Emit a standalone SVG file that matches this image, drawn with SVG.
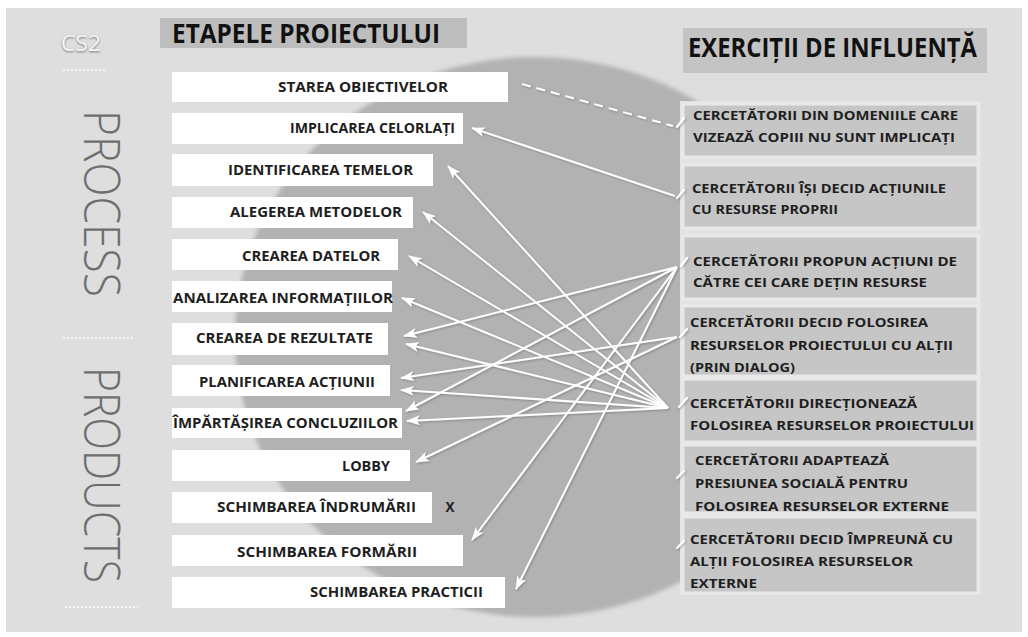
<svg xmlns="http://www.w3.org/2000/svg" width="1028" height="637" viewBox="0 0 1028 637">
  <style>
    .bg { fill: #dedede; }
    .stage { fill: #ffffff; }
    .stxt { font-family: "Open Sans", "Liberation Sans", sans-serif; font-weight: 700; font-size: 13.5px; fill: #1e1e1e; }
    .ex { fill: #c6c6c6; stroke: #e9e9e9; stroke-width: 3; }
    .etxt { font-family: "Open Sans", "Liberation Sans", sans-serif; font-weight: 700; font-size: 13px; fill: #1e1e1e; }
    .title { font-family: "Open Sans", "Liberation Sans", sans-serif; font-weight: 700; font-size: 26px; fill: #111111; }
    .side { font-family: "Open Sans", Lato, sans-serif; font-weight: 300; font-size: 50px; fill: #6e6e6e; }
    .dots { stroke: #f7f7f7; stroke-width: 2; stroke-dasharray: 2 2; fill: none; }
    .conn { stroke: #ffffff; stroke-width: 2; fill: none; }
    .tick { stroke: #ffffff; stroke-width: 2.2; fill: none; stroke-linecap: round; }
  </style>
  <defs>
    <marker id="arrow" viewBox="0 0 14 10" refX="13" refY="5" markerWidth="14" markerHeight="10" markerUnits="userSpaceOnUse" orient="auto">
      <path d="M0,0 L14,5 L0,10 L3.5,5 Z" fill="#ffffff"/>
    </marker>
    <filter id="soft" x="-5%" y="-5%" width="110%" height="110%">
      <feGaussianBlur stdDeviation="2"/>
    </filter>
    <filter id="shadow" x="-10%" y="-10%" width="120%" height="120%">
      <feDropShadow dx="1" dy="1" stdDeviation="0.8" flood-color="#555555" flood-opacity="0.5"/>
    </filter>
    <filter id="txtshadow" x="-20%" y="-20%" width="140%" height="140%">
      <feDropShadow dx="0" dy="1" stdDeviation="1.2" flood-color="#555555" flood-opacity="0.8"/>
    </filter>
  </defs>

  <rect x="0" y="0" width="1028" height="637" fill="#ffffff"/>
  <rect class="bg" x="6" y="8" width="1016" height="624"/>

  <!-- big ellipse backdrop -->
  <ellipse cx="535" cy="337" rx="300" ry="280" fill="#b2b2b2" filter="url(#soft)"/>

  <!-- left side labels -->
  <g id="side-labels">
    <text x="61" y="51" font-family="'Open Sans', 'Liberation Sans', sans-serif" font-size="22" fill="#f4f4f4" filter="url(#txtshadow)" textLength="40" lengthAdjust="spacingAndGlyphs">CS2</text>
    <line class="dots" x1="63" y1="70" x2="106" y2="70"/>
    <text class="side" transform="translate(84,110) rotate(90)" x="0" y="0" textLength="187" lengthAdjust="spacingAndGlyphs">PROCESS</text>
    <line class="dots" x1="63" y1="338" x2="135" y2="338"/>
    <text class="side" transform="translate(84,367) rotate(90)" x="0" y="0" textLength="216" lengthAdjust="spacingAndGlyphs">PRODUCTS</text>
    <line class="dots" x1="65" y1="607" x2="138" y2="607"/>
  </g>

  <!-- headers -->
  <g id="header-stages">
    <rect x="160" y="18" width="307" height="30" fill="#bdbdbd"/>
    <text class="title" x="172" y="43" textLength="268" lengthAdjust="spacingAndGlyphs">ETAPELE PROIECTULUI</text>
  </g>
  <g id="header-exercises">
    <rect x="683" y="28" width="304" height="45" fill="#c4c4c4"/>
    <text class="title" x="688" y="57" textLength="289" lengthAdjust="spacingAndGlyphs">EXERCIȚII DE INFLUENȚĂ</text>
  </g>

  <!-- stage nodes -->
  <g id="stage-1"><rect class="stage" x="172" y="72" width="336" height="30"/><text class="stxt" x="278" y="92" textLength="170" lengthAdjust="spacingAndGlyphs">STAREA OBIECTIVELOR</text></g>
  <g id="stage-2"><rect class="stage" x="172" y="113" width="291" height="31"/><text class="stxt" x="290" y="133" textLength="165" lengthAdjust="spacingAndGlyphs">IMPLICAREA CELORLAȚI</text></g>
  <g id="stage-3"><rect class="stage" x="172" y="154" width="261" height="32"/><text class="stxt" x="228" y="175" textLength="185" lengthAdjust="spacingAndGlyphs">IDENTIFICAREA TEMELOR</text></g>
  <g id="stage-4"><rect class="stage" x="172" y="197" width="241" height="31"/><text class="stxt" x="230" y="217" textLength="172" lengthAdjust="spacingAndGlyphs">ALEGEREA METODELOR</text></g>
  <g id="stage-5"><rect class="stage" x="172" y="239" width="226" height="31"/><text class="stxt" x="242" y="261" textLength="138" lengthAdjust="spacingAndGlyphs">CREAREA DATELOR</text></g>
  <g id="stage-6"><rect class="stage" x="172" y="281" width="220" height="31"/><text class="stxt" x="173" y="303" textLength="220" lengthAdjust="spacingAndGlyphs">ANALIZAREA INFORMAȚIILOR</text></g>
  <g id="stage-7"><rect class="stage" x="172" y="323" width="216" height="32"/><text class="stxt" x="196" y="343" textLength="177" lengthAdjust="spacingAndGlyphs">CREAREA DE REZULTATE</text></g>
  <g id="stage-8"><rect class="stage" x="172" y="365" width="218" height="31"/><text class="stxt" x="199" y="387" textLength="176" lengthAdjust="spacingAndGlyphs">PLANIFICAREA ACȚIUNII</text></g>
  <g id="stage-9"><rect class="stage" x="172" y="408" width="230" height="30"/><text class="stxt" x="173" y="428" textLength="225" lengthAdjust="spacingAndGlyphs">ÎMPĂRTĂȘIREA CONCLUZIILOR</text></g>
  <g id="stage-10"><rect class="stage" x="172" y="450" width="238" height="31"/><text class="stxt" x="342" y="471" textLength="48" lengthAdjust="spacingAndGlyphs">LOBBY</text></g>
  <g id="stage-11"><rect class="stage" x="172" y="492" width="260" height="31"/><text class="stxt" x="217" y="512" textLength="199" lengthAdjust="spacingAndGlyphs">SCHIMBAREA ÎNDRUMĂRII</text><text class="stxt" x="450" y="512" text-anchor="middle" fill="#3a3a3a">X</text></g>
  <g id="stage-12"><rect class="stage" x="172" y="535" width="291" height="31"/><text class="stxt" x="237" y="557" textLength="180" lengthAdjust="spacingAndGlyphs">SCHIMBAREA FORMĂRII</text></g>
  <g id="stage-13"><rect class="stage" x="172" y="577" width="333" height="31"/><text class="stxt" x="310" y="597" textLength="173" lengthAdjust="spacingAndGlyphs">SCHIMBAREA PRACTICII</text></g>

  <!-- exercise nodes -->
  <rect x="680" y="101" width="301" height="494" fill="#e4e4e4"/>
  <g id="ex-1"><rect class="ex" x="683" y="104" width="295" height="53"/>
    <text class="etxt" x="693" y="120" textLength="265" lengthAdjust="spacingAndGlyphs">CERCETĂTORII DIN DOMENIILE CARE</text>
    <text class="etxt" x="693" y="142" textLength="262" lengthAdjust="spacingAndGlyphs">VIZEAZĂ COPIII NU SUNT IMPLICAȚI</text></g>
  <g id="ex-2"><rect class="ex" x="683" y="165" width="295" height="63"/>
    <text class="etxt" x="692" y="193" textLength="254" lengthAdjust="spacingAndGlyphs">CERCETĂTORII ÎȘI DECID ACȚIUNILE</text>
    <text class="etxt" x="692" y="214" textLength="146" lengthAdjust="spacingAndGlyphs">CU RESURSE PROPRII</text></g>
  <g id="ex-3"><rect class="ex" x="683" y="236" width="295" height="63"/>
    <text class="etxt" x="693" y="266" textLength="264" lengthAdjust="spacingAndGlyphs">CERCETĂTORII PROPUN ACȚIUNI  DE</text>
    <text class="etxt" x="693" y="287" textLength="234" lengthAdjust="spacingAndGlyphs">CĂTRE CEI CARE DEȚIN RESURSE</text></g>
  <g id="ex-4"><rect class="ex" x="683" y="306" width="295" height="70"/>
    <text class="etxt" x="690" y="327" textLength="238" lengthAdjust="spacingAndGlyphs">CERCETĂTORII DECID FOLOSIREA</text>
    <text class="etxt" x="690" y="350" textLength="263" lengthAdjust="spacingAndGlyphs">RESURSELOR PROIECTULUI CU ALȚII</text>
    <text class="etxt" x="690" y="372" textLength="105" lengthAdjust="spacingAndGlyphs">(PRIN DIALOG)</text></g>
  <g id="ex-5"><rect class="ex" x="683" y="379" width="295" height="63"/>
    <text class="etxt" x="690" y="408" textLength="227" lengthAdjust="spacingAndGlyphs">CERCETĂTORII DIRECȚIONEAZĂ</text>
    <text class="etxt" x="690" y="430" textLength="284" lengthAdjust="spacingAndGlyphs">FOLOSIREA RESURSELOR PROIECTULUI</text></g>
  <g id="ex-6"><rect class="ex" x="683" y="445" width="295" height="68"/>
    <text class="etxt" x="695" y="465" textLength="194" lengthAdjust="spacingAndGlyphs">CERCETĂTORII ADAPTEAZĂ</text>
    <text class="etxt" x="695" y="488" textLength="213" lengthAdjust="spacingAndGlyphs">PRESIUNEA SOCIALĂ PENTRU</text>
    <text class="etxt" x="695" y="511" textLength="254" lengthAdjust="spacingAndGlyphs">FOLOSIREA RESURSELOR EXTERNE</text></g>
  <g id="ex-7"><rect class="ex" x="683" y="517" width="295" height="76"/>
    <text class="etxt" x="690" y="544" textLength="263" lengthAdjust="spacingAndGlyphs">CERCETĂTORII DECID ÎMPREUNĂ CU</text>
    <text class="etxt" x="690" y="566" textLength="223" lengthAdjust="spacingAndGlyphs">ALȚII FOLOSIREA RESURSELOR</text>
    <text class="etxt" x="690" y="588" textLength="67" lengthAdjust="spacingAndGlyphs">EXTERNE</text></g>

  <!-- connectors -->
  <g id="connectors" filter="url(#shadow)">
    <line class="conn" x1="522" y1="84" x2="673" y2="126" stroke-width="2.5" stroke-dasharray="9 6"/>
    <line class="conn" x1="675" y1="196" x2="472" y2="128" marker-end="url(#arrow)"/>
    <line class="conn" x1="677" y1="267" x2="404" y2="336" marker-end="url(#arrow)"/>
    <line class="conn" x1="677" y1="267" x2="406" y2="411" marker-end="url(#arrow)"/>
    <line class="conn" x1="677" y1="267" x2="472" y2="540" marker-end="url(#arrow)"/>
    <line class="conn" x1="677" y1="267" x2="516" y2="589" marker-end="url(#arrow)"/>
    <line class="conn" x1="677" y1="337" x2="401" y2="378" marker-end="url(#arrow)"/>
    <line class="conn" x1="677" y1="337" x2="416" y2="462" marker-end="url(#arrow)"/>
    <line class="conn" x1="668" y1="408" x2="448" y2="166" marker-end="url(#arrow)"/>
    <line class="conn" x1="668" y1="408" x2="423" y2="212" marker-end="url(#arrow)"/>
    <line class="conn" x1="668" y1="408" x2="409" y2="256" marker-end="url(#arrow)"/>
    <line class="conn" x1="668" y1="408" x2="402" y2="298" marker-end="url(#arrow)"/>
    <line class="conn" x1="668" y1="408" x2="406" y2="344" marker-end="url(#arrow)"/>
    <line class="conn" x1="668" y1="408" x2="401" y2="390" marker-end="url(#arrow)"/>
    <line class="conn" x1="668" y1="408" x2="407" y2="421" marker-end="url(#arrow)"/>
    <path class="tick" d="M677,127 L684,118 M677,198 L684,190 M681,266 L687,258 M680,337 L687,329 M679,407 L687,398 M677,478 L684,471 M677,548 L684,541"/>
  </g>
</svg>
